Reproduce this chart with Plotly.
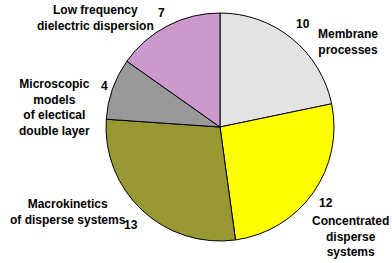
import plotly.graph_objects as go

W, H = 392, 263
labels = ["Membrane<br>processes", "Concentrated<br>disperse<br>systems",
          "Macrokinetics<br>of disperse systems", "Microscopic<br>models<br>of electical<br>double layer",
          "Low frequency<br>dielectric dispersion"]
values = [10, 12, 13, 4, 7]
colors = ["#E3E3E3", "#FFFF00", "#999933", "#999999", "#CC99CC"]

# label anchor positions (pixels): text centre and number position
text_pos = [(348, 42), (350, 236), (68, 212), (55, 107), (95, 18)]
num_pos = [(303, 24), (326, 203), (131, 225), (104, 86), (161, 13)]

fig = go.Figure(go.Pie(
    labels=labels, values=values, sort=False, direction="clockwise", rotation=0,
    marker=dict(colors=colors, line=dict(color="black", width=1)),
    textinfo="none", hoverinfo="label+value", showlegend=False,
    domain=dict(x=[106 / W, 334 / W], y=[(H - 241) / H, (H - 13) / H]),
))

font = dict(family="Liberation Sans, Arial", size=12, color="black")
ann = []
for lab, v, (tx, ty), (nx, ny) in zip(labels, values, text_pos, num_pos):
    ann.append(dict(x=tx / W, y=1 - ty / H, xref="paper", yref="paper", text="<b>" + lab + "</b>",
                    showarrow=False, font=font, xanchor="center", yanchor="middle", align="center"))
    ann.append(dict(x=nx / W, y=1 - ny / H, xref="paper", yref="paper", text="<b>" + str(v) + "</b>",
                    showarrow=False, font=font, xanchor="center", yanchor="middle"))

fig.update_layout(width=W, height=H, margin=dict(l=0, r=0, t=0, b=0),
                  paper_bgcolor="white", plot_bgcolor="white", annotations=ann)
fig.write_html("out.html")
